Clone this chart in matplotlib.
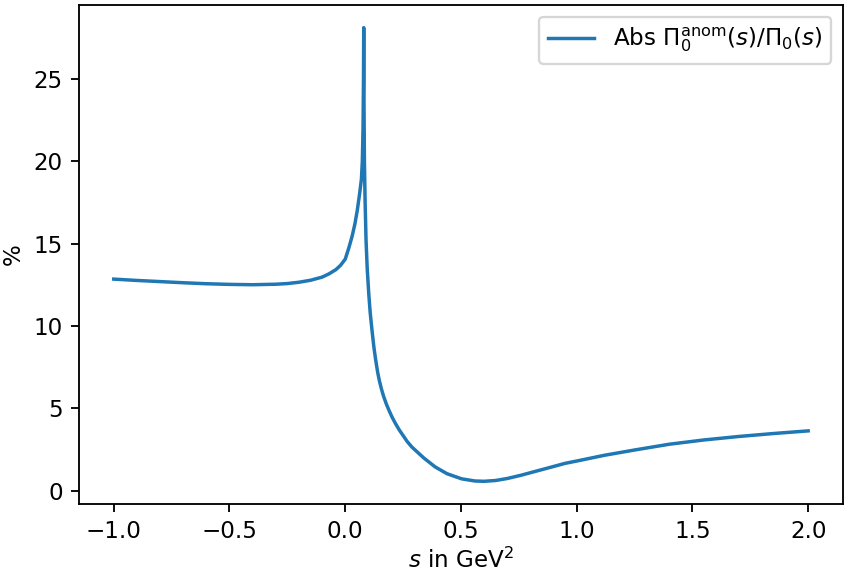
import matplotlib
matplotlib.use("Agg")
import matplotlib.pyplot as plt

# ratio |Pi_0^anom(s) / Pi_0(s)| in percent, sampled along s (GeV^2)
s_values = [-1.00, -0.90, -0.80, -0.70, -0.60, -0.50, -0.40, -0.30, -0.25, -0.20,
            -0.15, -0.10, -0.07, -0.04, -0.02, 0.00, 0.016, 0.03, 0.042, 0.052,
            0.062, 0.070, 0.074, 0.077, 0.079, 0.080, 0.081, 0.083, 0.086, 0.090,
            0.095, 0.102, 0.108, 0.116, 0.124, 0.131, 0.140, 0.148, 0.157, 0.166,
            0.178, 0.19, 0.203, 0.217, 0.233, 0.25, 0.268, 0.288,
            0.34, 0.389, 0.44, 0.503, 0.56, 0.60, 0.65, 0.70, 0.76, 0.834,
            0.90, 0.95, 1.00, 1.12, 1.25, 1.40, 1.55, 1.70, 1.85, 2.00]
ratio_pct = [12.84, 12.76, 12.69, 12.62, 12.56, 12.52, 12.50, 12.53, 12.57, 12.65,
             12.77, 12.96, 13.16, 13.42, 13.68, 14.05, 14.75, 15.45, 16.2, 17.0,
             18.0, 18.9, 20.0, 22.0, 25.0, 28.1, 24.0, 20.0, 17.5, 15.2,
             13.5, 11.9, 10.8, 9.7, 8.7, 8.0, 7.2, 6.65, 6.15, 5.72,
             5.25, 4.85, 4.45, 4.08, 3.7, 3.35, 2.98, 2.65,
             1.98, 1.44, 1.03, 0.72, 0.59, 0.57, 0.62, 0.74, 0.94, 1.22,
             1.47, 1.66, 1.80, 2.15, 2.47, 2.82, 3.08, 3.29, 3.47, 3.63]

DPI = 166
fig = plt.figure(figsize=(845 / DPI, 572 / DPI), dpi=DPI)
ax = fig.add_axes([0.0935, 0.1189, 0.904, 0.8724])

ax.plot(s_values, ratio_pct, label=r"Abs $\Pi_0^{\mathrm{anom}}(s)/\Pi_0(s)$")
ax.set_xlabel(r"$s$ in GeV$^2$", labelpad=2)
ax.set_ylabel("%")
ax.legend(loc="upper right")

fig.savefig("out.png", dpi=DPI)
